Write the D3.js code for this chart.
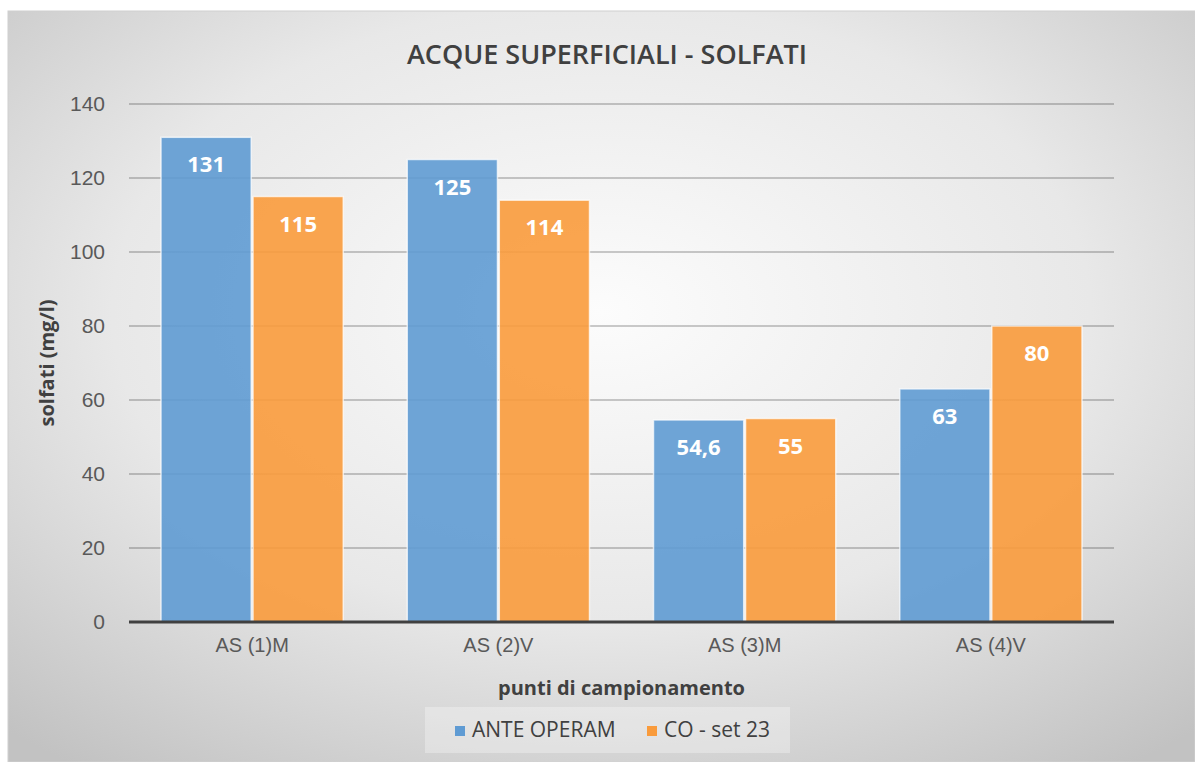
<!DOCTYPE html>
<html>
<head>
<meta charset="utf-8">
<script src="https://cdn.jsdelivr.net/npm/d3@7"></script>
<style>
  body { margin: 0; background: #fff; }
  svg { display: block; font-family: "Open Sans", "Noto Sans", sans-serif; }
</style>
</head>
<body>
<svg id="chart" width="1195" height="762"></svg>
<script>
const categories = ['AS (1)M', 'AS (2)V', 'AS (3)M', 'AS (4)V']
const seriesNames = ['ANTE OPERAM', 'CO - set 23']
const anteOperam = [131, 125, 54.6, 63]
const coSet23 = [115, 114, 55, 80]
const yTicks = [0, 20, 40, 60, 80, 100, 120, 140]
const colors = ['#5f9bd3', '#f99b3c']

const W = 1195, H = 762
const MARGIN = { top: 104, right: 81, bottom: 140, left: 129 }
const boundedWidth = W - MARGIN.left - MARGIN.right
const boundedHeight = H - MARGIN.top - MARGIN.bottom

const $svg = d3.select('#chart')

// background gradient like the excel chart area
const defs = $svg.append('defs')
const grad = defs.append('radialGradient')
    .attr('id', 'bg')
    .attr('cx', '50%').attr('cy', '40%').attr('r', '75%')
grad.append('stop').attr('offset', '0%').attr('stop-color', '#fcfcfc')
grad.append('stop').attr('offset', '55%').attr('stop-color', '#e8e8e8')
grad.append('stop').attr('offset', '100%').attr('stop-color', '#c2c2c2')

$svg.append('rect')
    .attr('x', 8).attr('y', 11)
    .attr('width', W - 8).attr('height', H - 11)
    .attr('fill', 'url(#bg)')
    .attr('stroke', '#d0d0d0')

const $gVis = $svg.append('g')
    .attr('transform', `translate(${MARGIN.left}, ${MARGIN.top})`)

const xScale = d3.scaleBand()
    .domain(categories)
    .range([0, boundedWidth])
    .paddingInner(0.26)
    .paddingOuter(0.13)

const xSub = d3.scaleBand()
    .domain(seriesNames)
    .range([0, xScale.bandwidth()])
    .paddingInner(0.02)

const yScale = d3.scaleLinear()
    .domain([0, 140])
    .range([boundedHeight, 0])

// gridlines
$gVis.append('g')
    .attr('class', 'grid')
    .selectAll('line')
    .data(yTicks.filter(d => d > 0))
    .join('line')
    .attr('x1', 0)
    .attr('x2', boundedWidth)
    .attr('y1', d => yScale(d))
    .attr('y2', d => yScale(d))
    .attr('stroke', 'rgba(0,0,0,0.2)')
    .attr('stroke-width', 2)

// y axis labels
const yAxis = $gVis.append('g')
    .call(d3.axisLeft(yScale).tickValues(yTicks).tickSize(0).tickPadding(24))
yAxis.select('.domain').remove()
yAxis.selectAll('text')
    .attr('fill', '#595959')
    .attr('font-size', 21)

const rows = categories.map((c, i) => ({ cat: c, values: [anteOperam[i], coSet23[i]] }))

const groups = $gVis.selectAll('.bar-group')
    .data(rows)
    .join('g')
    .attr('class', 'bar-group')
    .attr('transform', d => `translate(${xScale(d.cat)}, 0)`)

groups.selectAll('rect')
    .data(d => d.values.map((v, j) => ({ name: seriesNames[j], value: v, j })))
    .join('rect')
    .attr('x', d => xSub(d.name))
    .attr('y', d => yScale(d.value))
    .attr('width', xSub.bandwidth())
    .attr('height', d => yScale(0) - yScale(d.value))
    .attr('fill', d => colors[d.j])
    .attr('fill-opacity', 0.9)
    .attr('stroke', 'rgba(255,255,255,0.7)')
    .attr('stroke-width', 1.5)

groups.selectAll('.label')
    .data(d => d.values.map((v, j) => ({ name: seriesNames[j], value: v, j })))
    .join('text')
    .attr('class', 'label')
    .attr('x', d => xSub(d.name) + xSub.bandwidth() / 2)
    .attr('y', d => yScale(d.value) + 35)
    .attr('text-anchor', 'middle')
    .attr('fill', '#fff')
    .attr('font-size', 22)
    .attr('font-weight', 'bold')
    .text(d => String(d.value).replace('.', ','))

// x axis
const xAxis = $gVis.append('g')
    .attr('transform', `translate(0, ${boundedHeight})`)
    .call(d3.axisBottom(xScale).tickSize(0).tickPadding(16))
xAxis.select('.domain')
    .attr('stroke', '#404040')
    .attr('stroke-width', 3)
    .attr('d', `M0,0H${boundedWidth}`)
xAxis.selectAll('text')
    .attr('fill', '#595959')
    .attr('font-size', 20)

// titles
$svg.append('text')
    .attr('x', 607).attr('y', 64)
    .attr('text-anchor', 'middle')
    .attr('fill', '#404040')
    .attr('font-size', 27)
    .attr('font-weight', 600)
    .text('ACQUE SUPERFICIALI - SOLFATI')

$svg.append('text')
    .attr('transform', `translate(54, ${MARGIN.top + boundedHeight / 2}) rotate(-90)`)
    .attr('text-anchor', 'middle')
    .attr('fill', '#404040')
    .attr('font-size', 20)
    .attr('font-weight', 'bold')
    .text('solfati (mg/l)')

$svg.append('text')
    .attr('x', MARGIN.left + boundedWidth / 2).attr('y', 695)
    .attr('text-anchor', 'middle')
    .attr('fill', '#404040')
    .attr('font-size', 20)
    .attr('font-weight', 'bold')
    .text('punti di campionamento')

// legend
const legend = $svg.append('g').attr('class', 'legend')
legend.append('rect')
    .attr('x', 425).attr('y', 707)
    .attr('width', 365).attr('height', 46)
    .attr('fill', 'rgba(255,255,255,0.3)')

const legendX = [455, 647]
seriesNames.forEach((name, i) => {
    legend.append('rect')
        .attr('x', legendX[i]).attr('y', 726)
        .attr('width', 10).attr('height', 10)
        .attr('fill', colors[i])
    legend.append('text')
        .attr('x', legendX[i] + 17).attr('y', 737)
        .attr('fill', '#404040')
        .attr('font-size', 21)
        .text(name)
})
</script>
</body>
</html>
